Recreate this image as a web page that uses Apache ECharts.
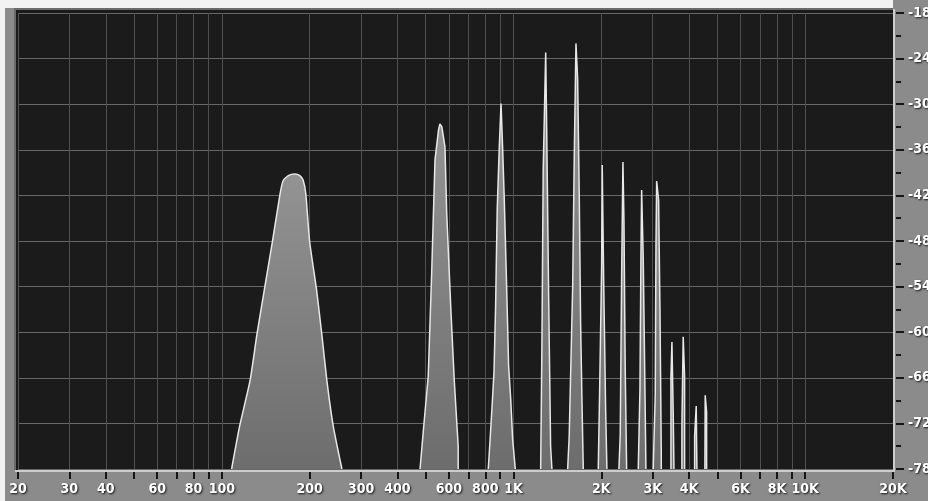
<!DOCTYPE html>
<html>
<head>
<meta charset="utf-8">
<title>Spectrum</title>
<script src="https://cdn.jsdelivr.net/npm/echarts@6/dist/echarts.min.js"></script>
<style>
  html, body { margin: 0; padding: 0; background: #8b8b8b; }
  #chart { width: 928px; height: 501px; }
</style>
</head>
<body>
<div id="chart"></div>
<script>
// 网格频率（竖线 + 刻度）
const gridFreqs = [20, 30, 40, 50, 60, 70, 80, 90, 100, 200, 300, 400, 500, 600, 700, 800, 900,
  1000, 2000, 3000, 4000, 5000, 6000, 7000, 8000, 9000, 10000, 20000]
// 带文字的频率
const freqLabels = [20, 30, 40, 60, 80, 100, 200, 300, 400, 600, 800,
  1000, 2000, 3000, 4000, 6000, 8000, 10000, 20000]

// 低频宽峰
const humpFreq = [108, 115, 125, 132, 140, 149, 158, 162, 169, 178, 185, 190, 194, 200, 211, 220, 229, 241, 258]
const humpLevel = [-78, -72.4, -66.3, -60.2, -54.3, -48.1, -42.0, -40.1, -39.4, -39.2, -39.4, -40.0, -41.8, -48.1, -54.3, -60.2, -66.3, -72.4, -78]

// 谐波尖峰（每个峰一组轮廓点）
const spikeFreq = [
  [478, 490, 510, 524, 538, 553, 559, 568, 582, 590, 609, 626, 646, 646],
  [819, 830, 843, 857, 868, 879, 893, 906, 918, 929, 947, 962, 978, 993, 1014],
  [1239, 1251, 1264, 1289, 1299, 1319, 1340, 1354],
  [1533, 1552, 1570, 1595, 1615, 1637, 1659, 1680, 1698, 1716, 1734],
  [1952, 1973, 2005, 2014, 2037, 2069, 2090],
  [2298, 2322, 2348, 2372, 2391, 2415, 2442],
  [2677, 2713, 2734, 2749, 2784, 2822, 2844],
  [3013, 3061, 3078, 3095, 3144, 3177, 3210, 3210],
  [3465, 3465, 3492, 3528, 3548],
  [3778, 3778, 3817, 3859, 3859],
  [4177, 4177, 4230, 4253],
  [4530, 4541, 4592, 4592]
]
const spikeLevel = [
  [-78, -73.2, -65.8, -52.2, -37.3, -33.4, -32.6, -33.0, -35.6, -44.3, -56.6, -66.2, -75.0, -78],
  [-78, -74.5, -70.1, -65.3, -56.6, -43.9, -36.0, -29.9, -36.0, -42.2, -54.0, -64.5, -68.8, -74.1, -78],
  [-78, -61.9, -38.6, -23.2, -33.0, -54.7, -75.0, -78],
  [-78, -73.7, -65.3, -54.0, -36.9, -22.0, -26.8, -41.9, -58.7, -68.8, -78],
  [-78, -67.9, -51.1, -38.0, -53.1, -70.1, -78],
  [-78, -73.4, -52.2, -37.6, -45.2, -64.9, -78],
  [-78, -67.5, -50.2, -41.3, -50.2, -67.5, -78],
  [-78, -68.2, -48.9, -40.1, -42.6, -56.8, -75.7, -78],
  [-78, -65.9, -61.3, -70.8, -78],
  [-78, -72.4, -60.6, -65.8, -78],
  [-78, -73.7, -69.7, -78],
  [-78, -68.3, -70.5, -78]
]

const labelFont = {
  color: '#ffffff',
  fontFamily: '"Liberation Sans Narrow", "DejaVu Sans Condensed", sans-serif',
  fontWeight: 'bold',
  fontSize: 14,
  textShadowColor: 'rgba(0, 0, 0, 0.85)',
  textShadowBlur: 2,
  textShadowOffsetX: 1,
  textShadowOffsetY: 1
}

const fill = new echarts.graphic.LinearGradient(0, 0, 0, 1, [
  { offset: 0, color: '#939393' },
  { offset: 1, color: '#6d6d6d' }
])

const peakSeries = (freqs, levels, smooth) => ({
  type: 'line',
  data: freqs.map((f, i) => [f, levels[i]]),
  symbol: 'none',
  smooth: smooth,
  silent: true,
  z: 3,
  lineStyle: { color: '#e8e8e8', width: 1.5 },
  areaStyle: { origin: 'start', color: fill, opacity: 1 }
})

const chart = echarts.init(document.getElementById('chart'))

chart.setOption({
  animation: false,
  grid: { left: 18, right: 35, top: 13, bottom: 32, outerBoundsMode: 'none' },
  graphic: [
    { type: 'rect', z: -10, shape: { x: 0, y: 0, width: 893, height: 8 }, style: { fill: '#f2f2f2' } },
    { type: 'rect', z: -10, shape: { x: 0, y: 0, width: 5, height: 501 }, style: { fill: '#f2f2f2' } },
    { type: 'rect', z: -10, shape: { x: 15, y: 9, width: 878, height: 461 }, style: { fill: '#1b1b1b' } },
    { type: 'polyline', z: 50, shape: { points: [[15, 470], [15, 9], [893, 9]] }, style: { stroke: '#6a6a6a', lineWidth: 2, fill: null } },
    { type: 'polyline', z: 50, shape: { points: [[15, 471], [894, 471], [894, 9]] }, style: { stroke: '#cdcdcd', lineWidth: 2, fill: null } }
  ],
  xAxis: {
    type: 'log',
    logBase: 10,
    min: 20,
    max: 20000,
    offset: 3,
    axisLine: { show: false },
    axisTick: {
      show: true,
      customValues: gridFreqs,
      length: 7,
      lineStyle: { color: '#161616', width: 2 }
    },
    axisLabel: Object.assign({
      customValues: freqLabels,
      margin: 10,
      formatter: v => v >= 1000 ? Math.round(v / 1000) + 'K' : String(Math.round(v))
    }, labelFont),
    splitLine: { show: true, lineStyle: { color: '#505050', width: 1 } }
  },
  yAxis: {
    type: 'value',
    position: 'right',
    min: -78,
    max: -18,
    interval: 6,
    offset: 3,
    axisLine: { show: false },
    axisTick: { show: true, length: 8, lineStyle: { color: '#161616', width: 2 } },
    minorTick: { show: true, splitNumber: 2, length: 5, lineStyle: { color: '#161616', width: 2 } },
    axisLabel: Object.assign({ margin: 12 }, labelFont),
    splitLine: { show: true, lineStyle: { color: '#686868', width: 1 } }
  },
  series: [peakSeries(humpFreq, humpLevel, 0.2)].concat(
    spikeFreq.map((freqs, i) => peakSeries(freqs, spikeLevel[i], false))
  )
})
</script>
</body>
</html>
